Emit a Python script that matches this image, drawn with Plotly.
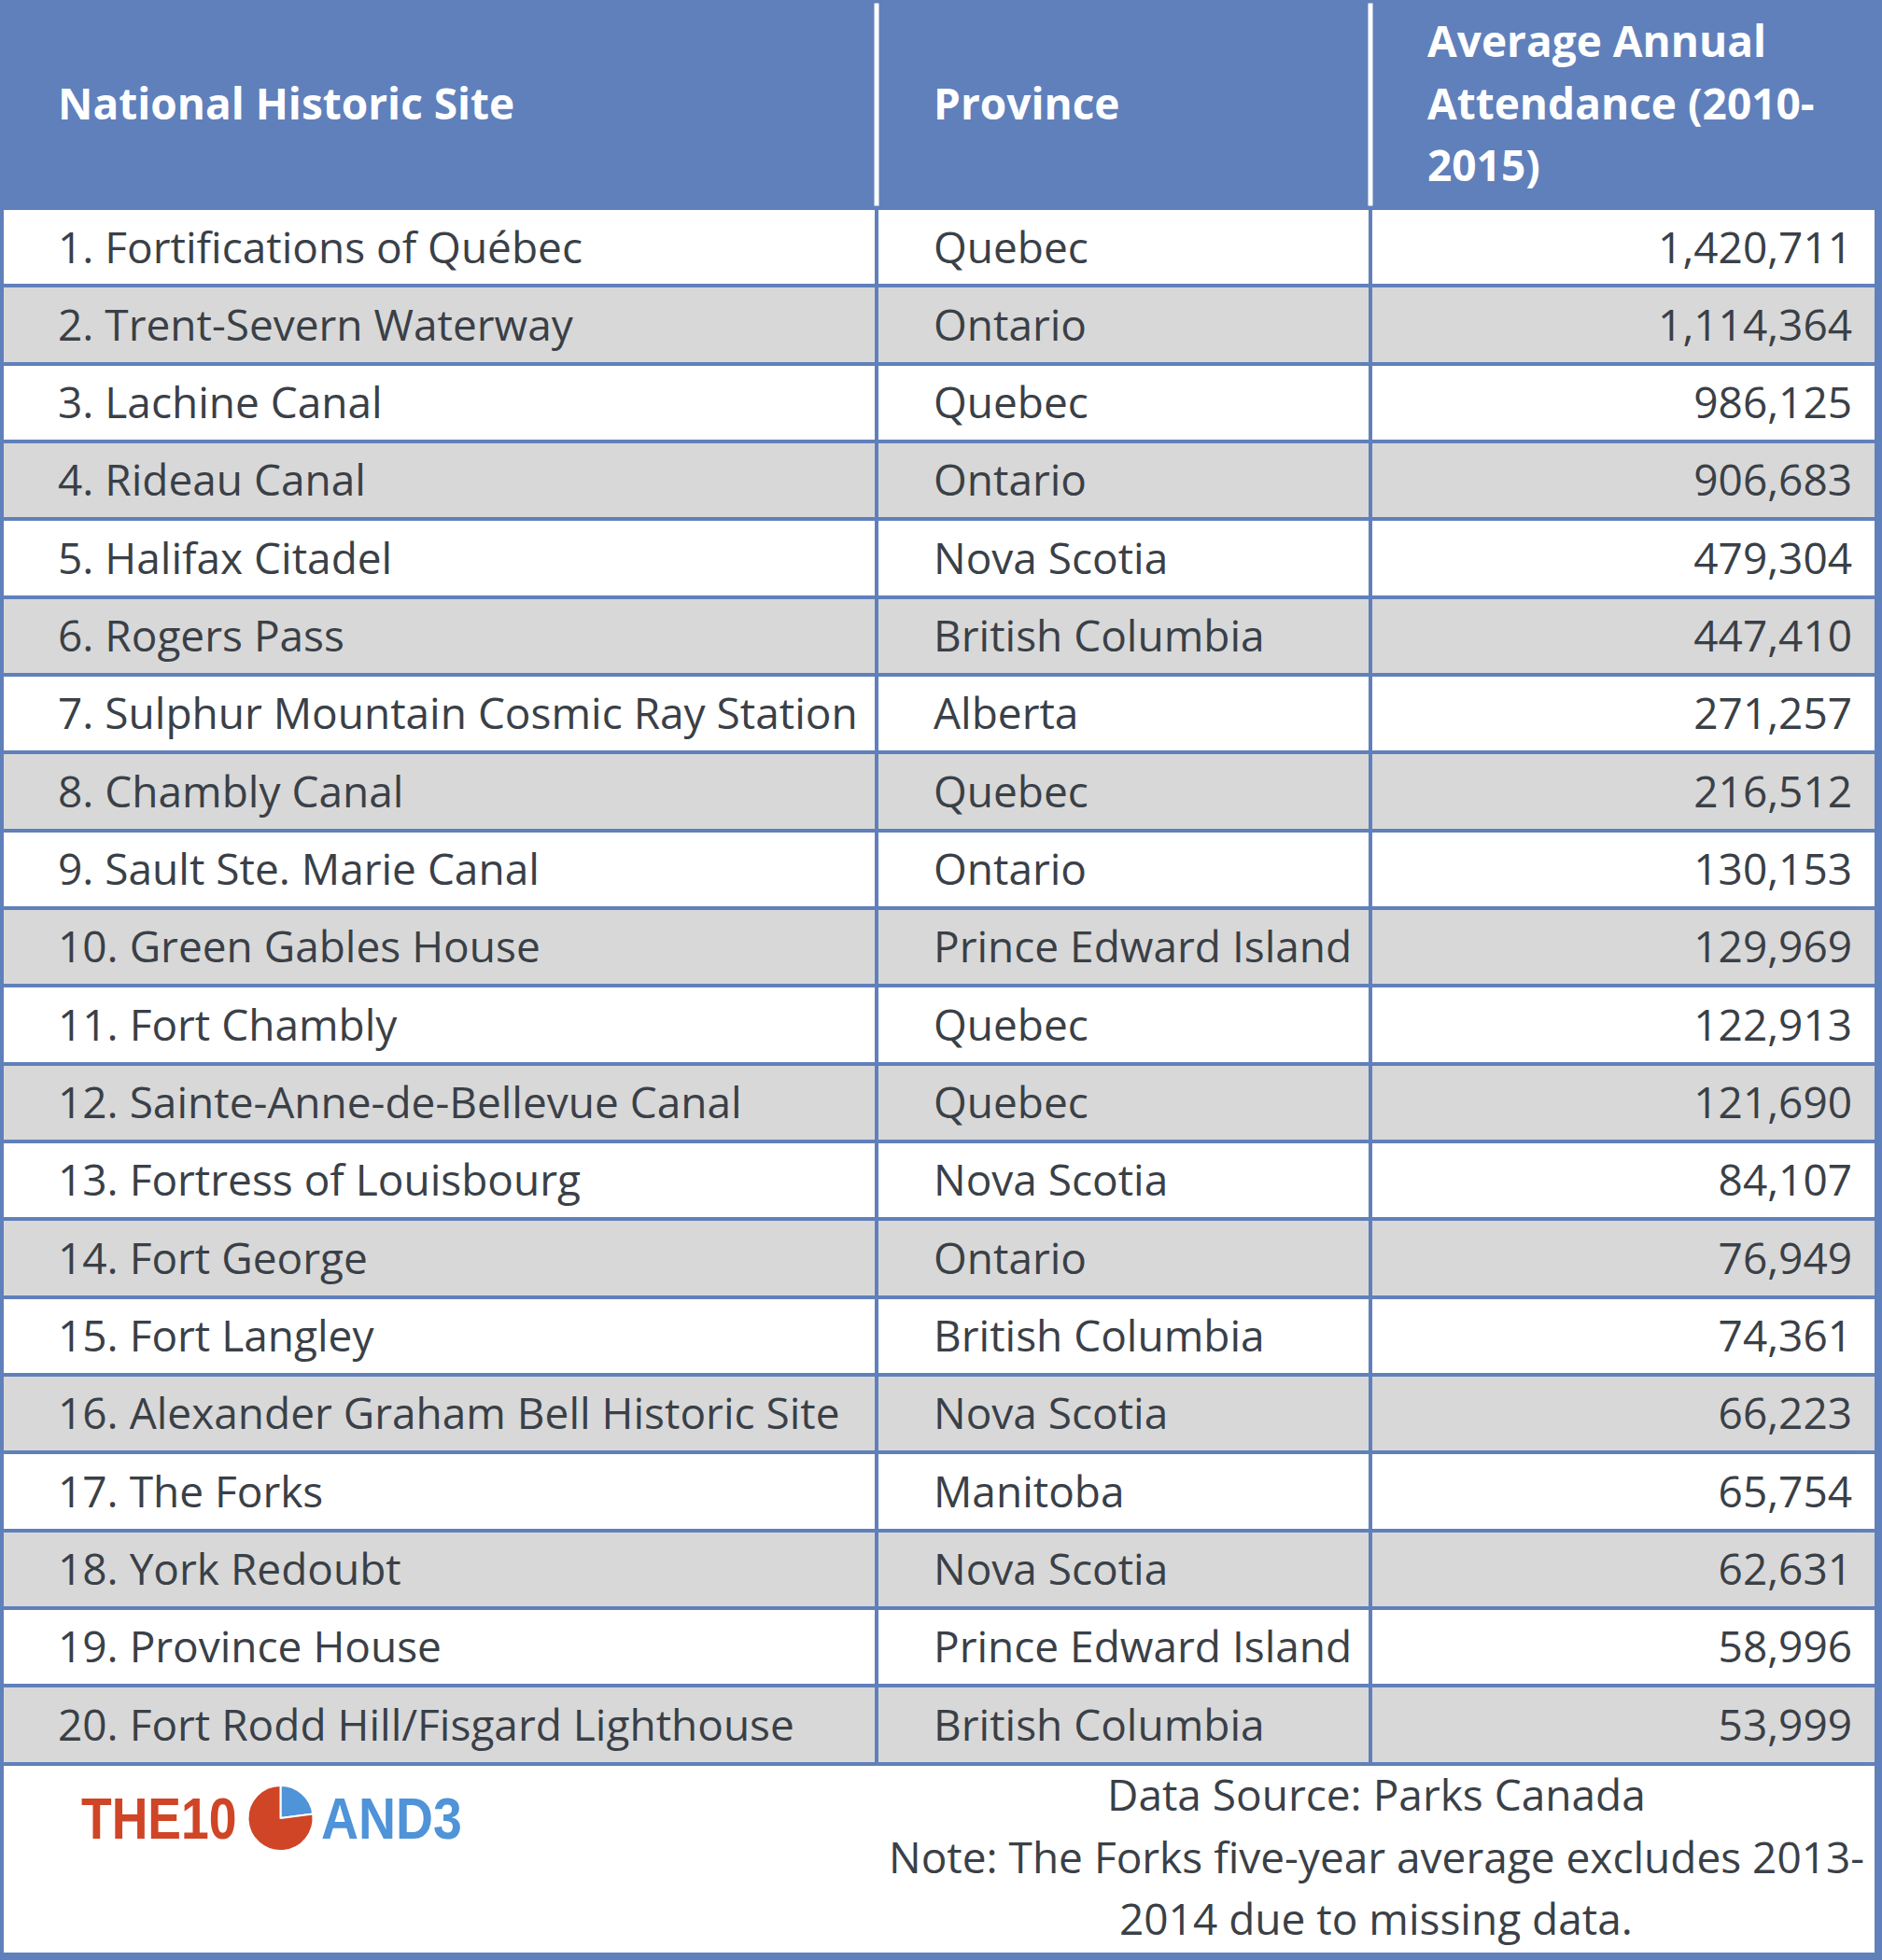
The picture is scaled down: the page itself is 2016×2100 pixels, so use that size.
import plotly.graph_objects as go

W, H = 2016, 2100
sites = ["1. Fortifications of Québec", "2. Trent-Severn Waterway", "3. Lachine Canal", "4. Rideau Canal",
         "5. Halifax Citadel", "6. Rogers Pass", "7. Sulphur Mountain Cosmic Ray Station", "8. Chambly Canal",
         "9. Sault Ste. Marie Canal", "10. Green Gables House", "11. Fort Chambly", "12. Sainte-Anne-de-Bellevue Canal",
         "13. Fortress of Louisbourg", "14. Fort George", "15. Fort Langley", "16. Alexander Graham Bell Historic Site",
         "17. The Forks", "18. York Redoubt", "19. Province House", "20. Fort Rodd Hill/Fisgard Lighthouse"]
provinces = ["Quebec", "Ontario", "Quebec", "Ontario", "Nova Scotia", "British Columbia", "Alberta", "Quebec",
             "Ontario", "Prince Edward Island", "Quebec", "Quebec", "Nova Scotia", "Ontario", "British Columbia",
             "Nova Scotia", "Manitoba", "Nova Scotia", "Prince Edward Island", "British Columbia"]
attendance = ["1,420,711", "1,114,364", "986,125", "906,683", "479,304", "447,410", "271,257", "216,512", "130,153",
              "129,969", "122,913", "121,690", "84,107", "76,949", "74,361", "66,223", "65,754", "62,631", "58,996", "53,999"]
headers = ["National Historic Site", "Province"]
header3_lines = ["Average Annual", "Attendance (2010-", "2015)"]
footer_lines = ["Data Source: Parks Canada", "Note: The Forks five-year average excludes 2013-", "2014 due to missing data."]
logo_share = [23, 77]

BLUE = "#6080bb"
TXT = "#3a4047"
RED = "#cf4526"
SKY = "#4f93d8"
FF = "Open Sans"
FS = 46
ROW = 83.33
CLEAR = "rgba(0,0,0,0)"

fills = [["#ffffff" if i % 2 == 0 else "#d8d8d8" for i in range(20)]] * 3
blank = [""] * 20

fig = go.Figure()
# grid: fills and rules
fig.add_trace(go.Table(
    domain=dict(x=[2 / W, 2010 / W], y=[1 - 1892 / H, 1 - 3 / H]),
    columnwidth=[937, 529, 542],
    header=dict(values=["", "", ""], height=220, fill_color=BLUE, line=dict(color=BLUE, width=4)),
    cells=dict(values=[blank, blank, blank], height=ROW, fill_color=fills, line=dict(color=BLUE, width=4)),
))
# text layer, inset from the grid
fig.add_trace(go.Table(
    domain=dict(x=[54 / W, 1992 / W], y=[1 - 1960 / H, 1 - 71 / H]),
    columnwidth=[938, 529, 471],
    header=dict(values=[f"<b>{h}</b>" for h in headers] + [""], height=168, fill_color=CLEAR,
                line=dict(color=CLEAR, width=4), align="left", font=dict(family=FF, size=FS, color="white")),
    cells=dict(values=[sites, provinces, attendance], height=ROW, fill_color=CLEAR,
               line=dict(color=CLEAR, width=4), align=["left", "left", "right"],
               font=dict(family=FF, size=FS, color=TXT)),
))
fig.add_trace(go.Pie(values=logo_share, domain=dict(x=[265 / W, 336 / W], y=[1 - 1983 / H, 1 - 1913 / H]),
                     marker=dict(colors=[SKY, RED], line=dict(color="white", width=2)),
                     sort=False, direction="clockwise", rotation=0, textinfo="none", showlegend=False))

ann = []
for t, y in zip(header3_lines, [43, 110, 176]):
    ann.append(dict(text=f"<b>{t}</b>", x=1527 / W, y=1 - y / H, xref="paper", yref="paper", xanchor="left", yanchor="middle",
                    showarrow=False, font=dict(family=FF, size=FS, color="white")))
for t, y in zip(footer_lines, [1922, 1989, 2055]):
    ann.append(dict(text=t, x=1474 / W, y=1 - y / H, xref="paper", yref="paper", xanchor="center", yanchor="middle",
                    showarrow=False, font=dict(family=FF, size=FS, color=TXT)))
ann.append(dict(text="<b>THE10</b>", x=85 / W, y=1 - 1948 / H, xref="paper", yref="paper", xanchor="left", yanchor="middle",
                showarrow=False, font=dict(family="Liberation Sans", size=63, color=RED)))
ann.append(dict(text="<b>AND3</b>", x=342 / W, y=1 - 1948 / H, xref="paper", yref="paper", xanchor="left", yanchor="middle",
                showarrow=False, font=dict(family="Liberation Sans", size=63, color=SKY)))
for x in (939, 1468):
    ann.append(dict(text=" ", x=x / W, y=1 - 112 / H, xref="paper", yref="paper", xanchor="center", yanchor="middle",
                    width=4, height=216, bgcolor="white", borderpad=0, showarrow=False, font=dict(size=1)))

shapes = [dict(type="rect", xref="paper", yref="paper", x0=0, x1=4 / W, y0=0, y1=1, fillcolor=BLUE, line_width=0),
          dict(type="rect", xref="paper", yref="paper", x0=2008 / W, x1=1, y0=0, y1=1, fillcolor=BLUE, line_width=0),
          dict(type="rect", xref="paper", yref="paper", x0=0, x1=1, y0=0, y1=8 / H, fillcolor=BLUE, line_width=0),
          dict(type="rect", xref="paper", yref="paper", x0=0, x1=1, y0=1 - 5 / H, y1=1, fillcolor=BLUE, line_width=0)]

fig.update_layout(width=W, height=H, margin=dict(l=0, r=0, t=0, b=0), paper_bgcolor="white",
                  annotations=ann, shapes=shapes, showlegend=False)
# the logo lettering is a condensed face: narrow the bold sans to match
post = """
document.body.style.margin='0';
document.querySelectorAll('.annotation-text').forEach(function(t){
  var s=t.textContent, k=s==='THE10'?0.85:(s==='AND3'?0.88:0);
  if(k){t.style.transformBox='fill-box';t.style.transformOrigin='left center';t.style.transform='scaleX('+k+')';}
});
"""
fig.write_html("out.html", post_script=post, config=dict(displayModeBar=False))
